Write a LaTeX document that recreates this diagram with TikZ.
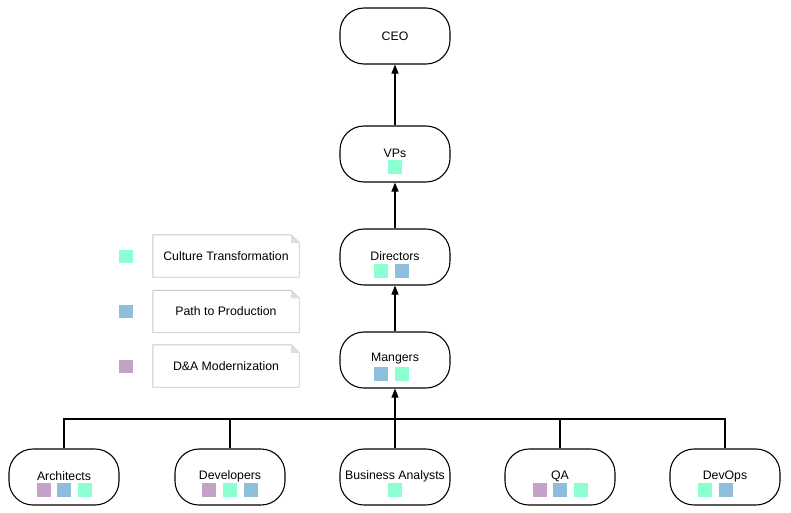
\documentclass[tikz,border=0pt]{standalone}
\usepackage{fontspec}
\setmainfont{Liberation Sans}
\usetikzlibrary{arrows.meta}

\definecolor{culture}{RGB}{140,255,208}
\definecolor{prod}{RGB}{143,190,220}
\definecolor{modern}{RGB}{195,162,198}
\definecolor{notegray}{RGB}{200,200,200}

\begin{document}
\begin{tikzpicture}[x=1pt,y=-1pt,font=\fontsize{12.3}{14}\selectfont]
\tikzset{box/.style={draw,line width=1.1pt,rounded corners=24pt,minimum width=110pt,minimum height=56pt,inner sep=0pt},
  sq/.style={minimum size=13.5pt,inner sep=0pt,outer sep=0pt},
  note/.style={minimum width=146pt,minimum height=42pt,inner sep=0pt},
  up/.style={line width=1.1pt,-{Triangle[length=9pt,width=7pt]}},
  bus/.style={line width=1.1pt}}
\useasboundingbox (0,0) rectangle (791,512);

% boxes
\node (ceo) at (395,36) [box] {CEO};
\node (vps) at (395,154) [box] {};
\node (dir) at (395,257) [box] {};
\node (man) at (395,360) [box] {};
\node (arch) at (64,477) [box] {};
\node (dev) at (230,477) [box] {};
\node (ba) at (395,477) [box] {};
\node (qa) at (560,477) [box] {};
\node (ops) at (725,477) [box] {};

% titles
\node (vps-t) at (395,153) {VPs};
\node (dir-t) at (395,256) {Directors};
\node (man-t) at (395,359) {Mangers};
\node (arch-t) at (64,476) {Architects};
\node (dev-t) at (230,476) {Developers};
\node (ba-t) at (395,476) {Business Analysts};
\node (qa-t) at (560,476) {QA};
\node (ops-t) at (725,476) {DevOps};

% tags
\node (vps-1) at (395,167) [sq,fill=culture] {};
\node (dir-1) at (381,271) [sq,fill=culture] {};
\node (dir-2) at (402,271) [sq,fill=prod] {};
\node (man-1) at (381,374) [sq,fill=prod] {};
\node (man-2) at (402,374) [sq,fill=culture] {};
\node (arch-1) at (44,490) [sq,fill=modern] {};
\node (arch-2) at (64,490) [sq,fill=prod] {};
\node (arch-3) at (85,490) [sq,fill=culture] {};
\node (dev-1) at (209,490) [sq,fill=modern] {};
\node (dev-2) at (230,490) [sq,fill=culture] {};
\node (dev-3) at (251,490) [sq,fill=prod] {};
\node (ba-1) at (395,490) [sq,fill=culture] {};
\node (qa-1) at (540,490) [sq,fill=modern] {};
\node (qa-2) at (560,490) [sq,fill=prod] {};
\node (qa-3) at (581,490) [sq,fill=culture] {};
\node (ops-1) at (705,490) [sq,fill=culture] {};
\node (ops-2) at (726,490) [sq,fill=prod] {};

% legend
\node (key-1) at (126,256.5) [sq,fill=culture] {};
\node (key-2) at (126,311.5) [sq,fill=prod] {};
\node (key-3) at (126,366.5) [sq,fill=modern] {};
\node (note-1) at (226,256) [note] {Culture Transformation};
\node (note-2) at (226,311.5) [note] {Path to Production};
\node (note-3) at (226,366) [note] {D\&A Modernization};
\foreach \n in {note-1,note-2,note-3}{
  \draw[notegray,line width=0.9pt] (\n.north west) -- ([xshift=-8pt]\n.north east) -- ([yshift=-8pt]\n.north east) -- (\n.south east) -- (\n.south west) -- cycle;
  \fill[notegray!60] ([xshift=-8pt]\n.north east) -- ([yshift=-8pt]\n.north east) -- ([xshift=-8pt,yshift=-8pt]\n.north east) -- cycle;
}

% connectors
\coordinate (hub) at (395,419);
\draw[bus] (arch.north) |- (hub);
\draw[bus] (dev.north) |- (hub);
\draw[bus] (qa.north) |- (hub);
\draw[bus] (ops.north) |- (hub);
\draw[up] (ba.north) -- (man.south);
\draw[up] (man.north) -- (dir.south);
\draw[up] (dir.north) -- (vps.south);
\draw[up] (vps.north) -- (ceo.south);
\end{tikzpicture}
\end{document}
